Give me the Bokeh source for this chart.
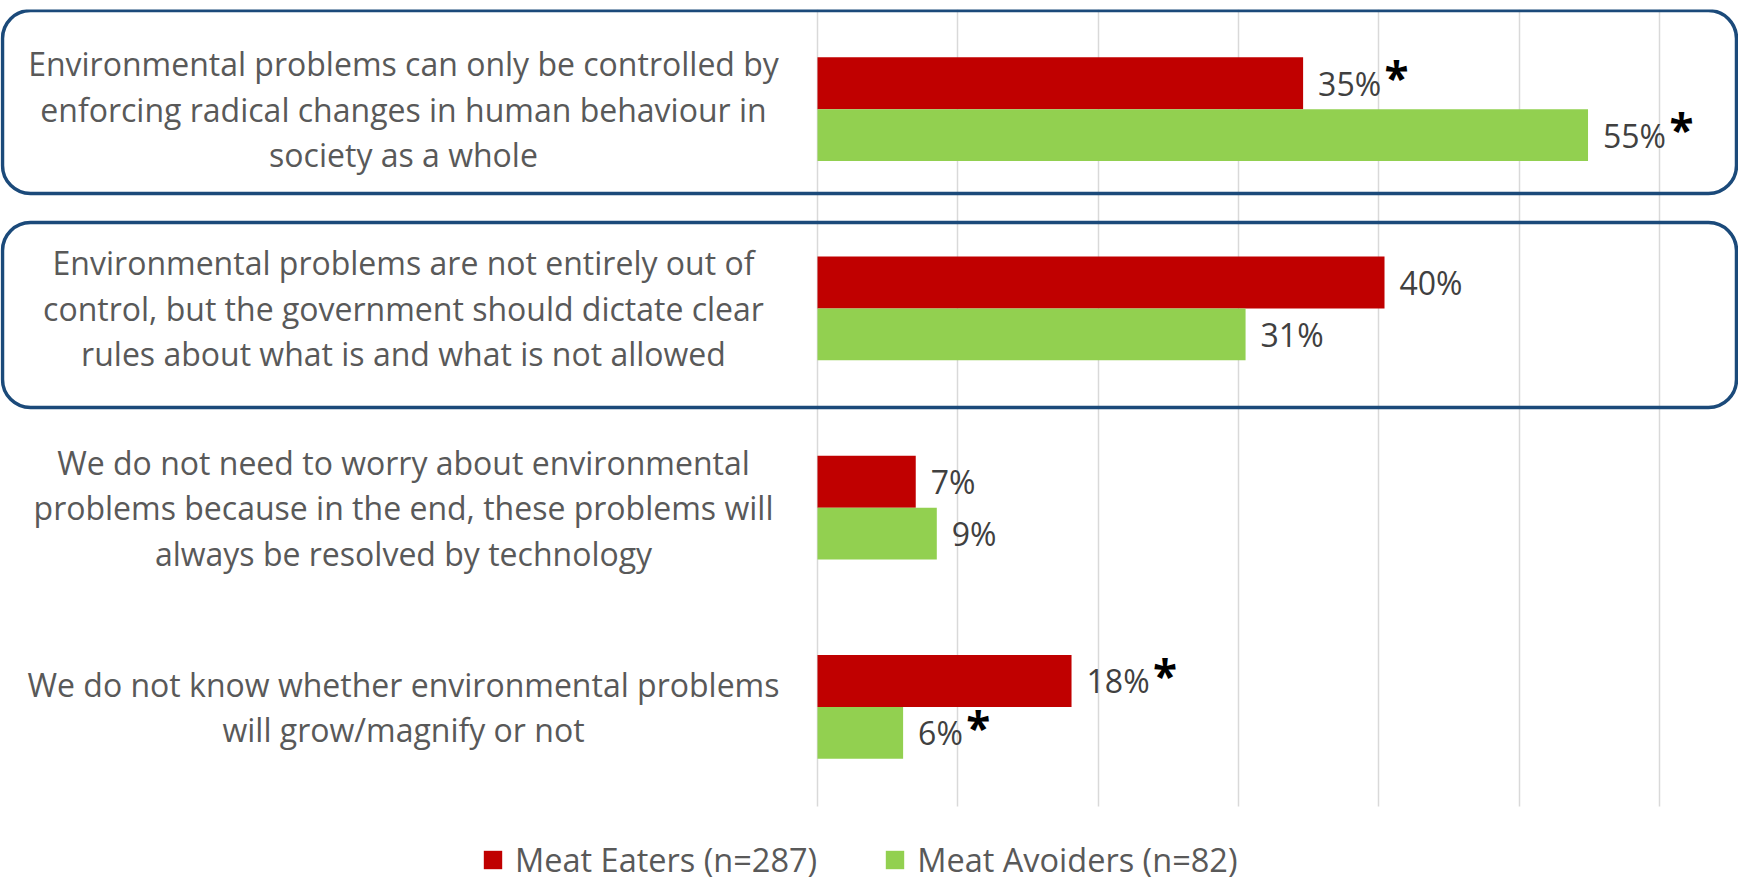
from bokeh.plotting import figure
from bokeh.models import (ColumnDataSource, Range1d, BoxAnnotation,
                          Legend, LegendItem, FixedTicker)
from bokeh.transform import dodge
from bokeh.core.properties import value
from bokeh.embed import file_html
from bokeh.resources import INLINE

# ---------------- data ----------------
categories = [
    "Environmental problems can only be controlled by\nenforcing radical changes in human behaviour in\nsociety as a whole",
    "Environmental problems are not entirely out of\ncontrol, but the government should dictate clear\nrules about what is and what is not allowed",
    "We do not need to worry about environmental\nproblems because in the end, these problems will\nalways be resolved by technology",
    "We do not know whether environmental problems\nwill grow/magnify or not",
]
meat_eaters = [34.6, 40.4, 7.0, 18.1]          # percent
meat_avoiders = [54.9, 30.5, 8.5, 6.1]         # percent
eaters_significant = [True, False, False, True]
avoiders_significant = [True, False, False, True]
series_names = ["Meat Eaters (n=287)", "Meat Avoiders (n=82)"]
x_ticks = [0, 10, 20, 30, 40, 50, 60]
highlighted = [0, 1]                           # categories framed by a rounded box

# ---------------- geometry / style ----------------
W, H = 1738, 882
ZERO_PX = 817.0
PX_PER_PCT = 14.035
FRAME_TOP = 9
PLOT_BOTTOM = 806
CAT_PX = (PLOT_BOTTOM - FRAME_TOP) / len(categories)
RED, GREEN = "#C00000", "#92D050"
BOX_COLOR = "#1B4A7A"
FONT = "Open Sans"


def px_to_x(px):
    return (px - ZERO_PX) / PX_PER_PCT


def px_to_y(py):
    # category index grows downwards; index i is centred in its band
    return -0.5 + (py - FRAME_TOP) / CAT_PX


def fmt(v):
    return f"{int(v + 0.5)}%"


def label_width(s):
    digits = len(s) - 1
    return digits * 18.3 + 26.8


eaters_labels = [fmt(v) for v in meat_eaters]
avoiders_labels = [fmt(v) for v in meat_avoiders]
idx = list(range(len(categories)))

src = ColumnDataSource(dict(
    idx=idx,
    cat=categories,
    eaters=meat_eaters,
    avoiders=meat_avoiders,
    eaters_label=eaters_labels,
    avoiders_label=avoiders_labels,
))

LABEL_GAP = 15
STAR_GAP = 3


def star_source(vals, labels, sig):
    d = dict(idx=[], x=[], off=[])
    for i, v, l, s in zip(idx, vals, labels, sig):
        if s:
            d["idx"].append(i)
            d["x"].append(v)
            d["off"].append(LABEL_GAP + label_width(l) + STAR_GAP)
    return ColumnDataSource(d)


star_e = star_source(meat_eaters, eaters_labels, eaters_significant)
star_a = star_source(meat_avoiders, avoiders_labels, avoiders_significant)

p = figure(width=W, height=H,
           x_range=Range1d(px_to_x(0), px_to_x(W)),
           y_range=Range1d(start=px_to_y(H), end=px_to_y(FRAME_TOP)),
           x_axis_location=None, y_axis_location=None,
           toolbar_location=None, output_backend="svg",
           min_border_left=0, min_border_right=0,
           min_border_top=FRAME_TOP, min_border_bottom=0)
p.outline_line_color = None
p.background_fill_color = "white"
p.border_fill_color = "white"

p.xgrid.ticker = FixedTicker(ticks=x_ticks)
p.xgrid.grid_line_color = "#D9D9D9"
p.xgrid.grid_line_width = 1.5
p.xgrid.cross_bounds = (-0.5, len(categories) - 0.5)
p.ygrid.visible = False

OFF = 0.13
BAR_H = 0.26
r1 = p.hbar(y=dodge("idx", -OFF), left=0, right="eaters", height=BAR_H,
            fill_color=RED, line_color=None, source=src)
r2 = p.hbar(y=dodge("idx", OFF), left=0, right="avoiders", height=BAR_H,
            fill_color=GREEN, line_color=None, source=src)

# value labels
p.text(x="eaters", y=dodge("idx", -OFF), text="eaters_label", source=src,
       x_offset=LABEL_GAP, text_baseline="middle", text_align="left",
       text_font=value(FONT), text_font_size="32px", text_color="#404040")
p.text(x="avoiders", y=dodge("idx", OFF), text="avoiders_label", source=src,
       x_offset=LABEL_GAP, text_baseline="middle", text_align="left",
       text_font=value(FONT), text_font_size="32px", text_color="#404040")

# significance asterisks
for s, o in ((star_e, -OFF), (star_a, OFF)):
    p.text(x="x", y=dodge("idx", o), text=value("*"), source=s,
           x_offset="off", y_offset=-6, text_baseline="alphabetic", text_align="left",
           text_font=value(FONT), text_font_style="bold", text_font_size="44px",
           text_color="black")

# category labels
p.text(x=px_to_x(403), y="idx", text="cat", source=src,
       text_align="center", text_baseline="middle",
       text_font=value(FONT), text_font_size="32px", text_color="#595959",
       text_line_height=1.06)

# rounded highlight boxes
box_px = {0: (10, 193), 1: (222, 407)}
for i in highlighted:
    top_px, bot_px = box_px[i]
    p.add_layout(BoxAnnotation(left=px_to_x(2), right=px_to_x(1736),
                               top=px_to_y(top_px), bottom=px_to_y(bot_px),
                               fill_alpha=0, line_color=BOX_COLOR, line_alpha=1,
                               line_width=3.5, border_radius=28))

legend = Legend(items=[LegendItem(label=series_names[0], renderers=[r1]),
                       LegendItem(label=series_names[1], renderers=[r2])],
                orientation="horizontal", location=(481, 0),
                padding=0, margin=0, spacing=66, label_standoff=11,
                glyph_width=23, glyph_height=23, label_height=36,
                label_text_font=FONT, label_text_font_size="32.5px",
                label_text_color="#595959",
                border_line_color=None, background_fill_alpha=0)
p.add_layout(legend)

open("out.html", "w").write(file_html(p, INLINE))
